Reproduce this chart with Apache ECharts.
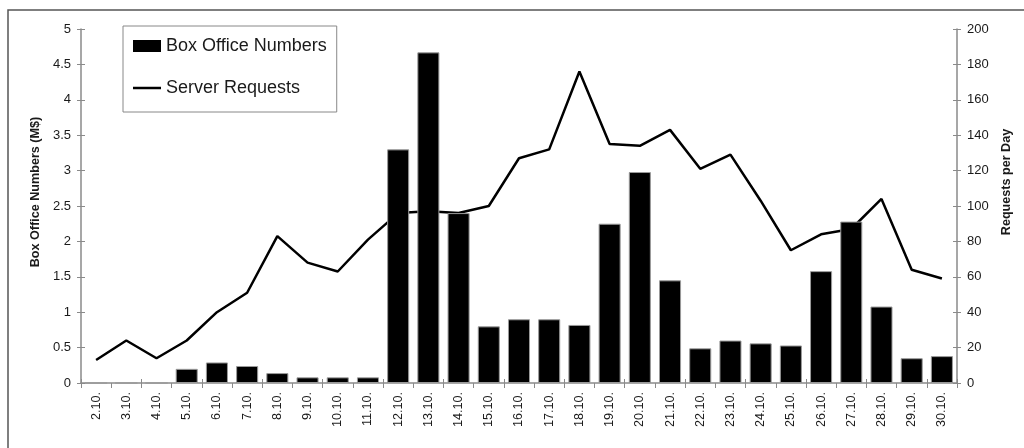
<!DOCTYPE html>
<html>
<head>
<meta charset="utf-8">
<script src="https://cdn.jsdelivr.net/npm/echarts@6/dist/echarts.min.js"></script>
<style>
  html, body { margin: 0; padding: 0; background: #fff; }
  #chart { width: 1024px; height: 448px; }
</style>
</head>
<body>
<div id="chart"></div>
<script>
// dates 2.10. - 30.10.
const days = ["2.10.", "3.10.", "4.10.", "5.10.", "6.10.", "7.10.", "8.10.", "9.10.", "10.10.", "11.10.",
  "12.10.", "13.10.", "14.10.", "15.10.", "16.10.", "17.10.", "18.10.", "19.10.", "20.10.", "21.10.",
  "22.10.", "23.10.", "24.10.", "25.10.", "26.10.", "27.10.", "28.10.", "29.10.", "30.10."];

// box office in M$ (left axis)
const boxOffice = [0, 0, 0, 0.2, 0.29, 0.24, 0.14, 0.08, 0.08, 0.08,
  3.3, 4.67, 2.4, 0.8, 0.9, 0.9, 0.82, 2.25, 2.98, 1.45,
  0.49, 0.6, 0.56, 0.53, 1.58, 2.28, 1.08, 0.35, 0.38];

// server requests per day (right axis)
const requests = [13, 24, 14, 24, 40, 51, 83, 68, 63, 81,
  96, 97, 96, 100, 127, 132, 176, 135, 134, 143,
  121, 129, 103, 75, 84, 87, 104, 64, 59];

const leftTicks = { min: 0, max: 5, interval: 0.5 };
const rightTicks = { min: 0, max: 200, interval: 20 };

const font = "Liberation Sans, Arial, sans-serif";
const axisGray = "#8a8a8a";
const txt = "#1a1a1a";

const chart = echarts.init(document.getElementById("chart"));

// duplicate axes only draw the inner half of the crossing ticks
function innerY(pos, t) {
  return {
    type: "value", position: pos, min: t.min, max: t.max, interval: t.interval,
    axisLine: { show: false }, splitLine: { show: false }, axisLabel: { show: false },
    axisTick: { show: true, inside: true, length: 4, lineStyle: { color: axisGray } }
  };
}

const option = {
  animation: false,
  backgroundColor: "#fff",
  textStyle: { fontFamily: font },
  graphic: [
    {
      type: "rect",
      shape: { x: 8, y: 10, width: 1100, height: 500 },
      style: { fill: "none", stroke: "#555", lineWidth: 1.5 },
      silent: true
    }
  ],
  legend: {
    orient: "vertical",
    left: 123,
    top: 26,
    padding: [11, 10, 15, 10],
    itemGap: 24,
    itemWidth: 28,
    itemHeight: 12,
    borderColor: "#888",
    borderWidth: 1,
    backgroundColor: "#fff",
    textStyle: { fontFamily: font, fontSize: 18, color: txt },
    data: [
      { name: "Box Office Numbers", icon: "rect", itemStyle: { borderWidth: 0 } },
      { name: "Server Requests", icon: "path://M0,0 H28 V2.5 H0 Z", itemStyle: { borderWidth: 0 } }
    ]
  },
  grid: { left: 81, right: 67, top: 29, bottom: 65 },
  xAxis: [
    {
      type: "category",
      data: days,
      position: "bottom",
      axisLine: { lineStyle: { color: axisGray, width: 1.5 } },
      axisTick: { show: true, length: 5, lineStyle: { color: axisGray } },
      axisLabel: { rotate: 90, margin: 9, fontSize: 12.6, color: txt, fontFamily: font, interval: 0 }
    },
    {
      type: "category",
      data: days,
      position: "bottom",
      axisLine: { show: false },
      axisLabel: { show: false },
      axisTick: { show: true, inside: true, length: 4, lineStyle: { color: axisGray } }
    }
  ],
  yAxis: [
    {
      type: "value",
      position: "left",
      min: leftTicks.min, max: leftTicks.max, interval: leftTicks.interval,
      name: "Box Office Numbers (M$)",
      nameLocation: "middle",
      nameGap: 39,
      nameTextStyle: { fontFamily: font, fontSize: 12.6, fontWeight: "bold", color: txt, padding: [0, 0, 0, 28] },
      axisLine: { show: true, lineStyle: { color: axisGray, width: 1.5 } },
      axisTick: { show: true, length: 4, lineStyle: { color: axisGray } },
      splitLine: { show: false },
      axisLabel: { margin: 10, fontSize: 13, color: txt, fontFamily: font }
    },
    {
      type: "value",
      position: "right",
      min: rightTicks.min, max: rightTicks.max, interval: rightTicks.interval,
      name: "Requests per Day",
      nameLocation: "middle",
      nameGap: 37,
      nameTextStyle: { fontFamily: font, fontSize: 12.6, fontWeight: "bold", color: txt, padding: [0, 0, 0, 48] },
      axisLine: { show: true, lineStyle: { color: axisGray, width: 1.5 } },
      axisTick: { show: true, length: 4, lineStyle: { color: axisGray } },
      splitLine: { show: false },
      axisLabel: { margin: 10, fontSize: 13, color: txt, fontFamily: font }
    },
    innerY("left", leftTicks),
    innerY("right", rightTicks)
  ],
  series: [
    {
      name: "Server Requests",
      type: "line",
      yAxisIndex: 1,
      data: requests,
      symbol: "none",
      z: 1,
      lineStyle: { color: "#000", width: 2.5 },
      itemStyle: { color: "#000" }
    },
    {
      name: "Box Office Numbers",
      type: "bar",
      yAxisIndex: 0,
      data: boxOffice,
      barCategoryGap: "27%",
      z: 3,
      itemStyle: { color: "#000", borderColor: "#9a9a9a", borderWidth: 1 }
    }
  ]
};

chart.setOption(option);
</script>
</body>
</html>
